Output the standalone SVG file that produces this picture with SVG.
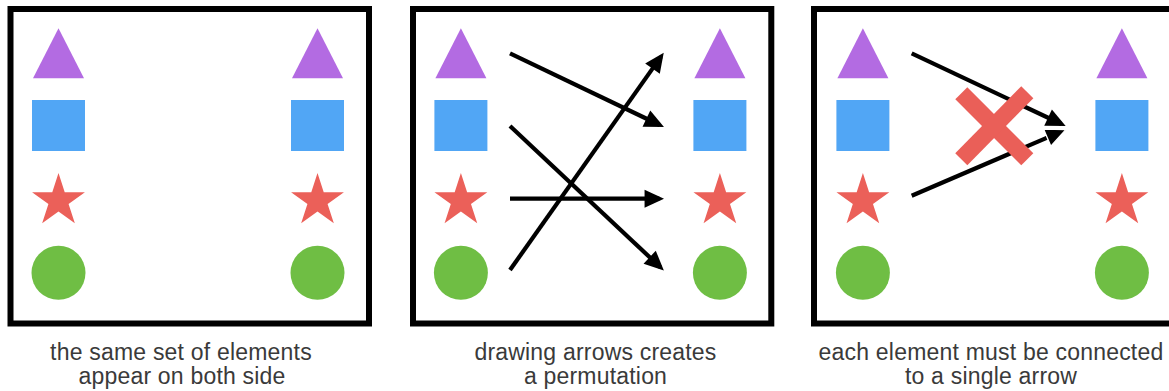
<svg xmlns="http://www.w3.org/2000/svg" xmlns:xlink="http://www.w3.org/1999/xlink" width="1169" height="391" viewBox="0 0 1169 391">
<style>
.frame{fill:none;stroke:#000;stroke-width:6}
.arrow{fill:none;stroke:#000;stroke-width:4.2;marker-end:url(#head)}
.arrow2{fill:none;stroke:#000;stroke-width:4.2;marker-end:url(#head2)}
.lbl{font-family:"Helvetica Neue","Liberation Sans",Arial,sans-serif;font-size:23px;letter-spacing:0.2px;fill:#3a3a3a;text-anchor:middle}
.cross{stroke:#EA5F58;stroke-width:17;stroke-linecap:butt}
</style>
<defs>
<polygon id="tri" points="0,-25 25.5,25 -25.5,25" fill="#B36BE2"/>
<rect id="sq" x="-26.5" y="-25.5" width="53" height="51" fill="#51A6F5"/>
<path id="star" d="M0,-27.8 L6.23,-8.58 L26.44,-8.59 L10.08,3.28 L16.34,22.49 L0,10.6 L-16.34,22.49 L-10.08,3.28 L-26.44,-8.59 L-6.23,-8.58 Z" fill="#EB6059"/>
<circle id="circ" r="27" fill="#6FBE44"/>
<marker id="head" markerUnits="userSpaceOnUse" markerWidth="21" markerHeight="20" viewBox="0 -9.5 19 19" refX="14" refY="0" orient="auto">
<path d="M0,-8.5 L18.5,0 L0,8.5 Z" fill="#000"/>
</marker>
<marker id="head2" markerUnits="userSpaceOnUse" markerWidth="23" markerHeight="23" viewBox="-1 -10.5 21 21" refX="14" refY="0" orient="auto">
<path d="M0,-8.5 L18.5,0 L0,8.5 Z" fill="#000" stroke="#fff" stroke-width="1.2"/>
</marker>
</defs>

<g id="panel1">
<rect class="frame" x="10.5" y="9" width="358.5" height="314.5"/>
<g id="p1-left-triangle"><use xlink:href="#tri" x="58.5" y="53.3"/></g>
<g id="p1-left-square"><use xlink:href="#sq" x="58.5" y="125.5"/></g>
<g id="p1-left-star"><use xlink:href="#star" x="58.5" y="200.8"/></g>
<g id="p1-left-circle"><use xlink:href="#circ" x="58.5" y="272.8"/></g>
<g id="p1-right-triangle"><use xlink:href="#tri" x="317.5" y="53.3"/></g>
<g id="p1-right-square"><use xlink:href="#sq" x="317.5" y="125.5"/></g>
<g id="p1-right-star"><use xlink:href="#star" x="317.5" y="200.8"/></g>
<g id="p1-right-circle"><use xlink:href="#circ" x="317.5" y="272.8"/></g>
<text class="lbl" x="181" y="360">the same set of elements</text>
<text class="lbl" x="182" y="384">appear on both side</text>
</g>

<g id="panel2">
<rect class="frame" x="413" y="9" width="358.3" height="314.5"/>
<g id="p2-left-triangle"><use xlink:href="#tri" x="460.9" y="53.3"/></g>
<g id="p2-left-square"><use xlink:href="#sq" x="460.9" y="125.5"/></g>
<g id="p2-left-star"><use xlink:href="#star" x="460.9" y="200.8"/></g>
<g id="p2-left-circle"><use xlink:href="#circ" x="460.9" y="272.8"/></g>
<g id="p2-right-triangle"><use xlink:href="#tri" x="719.9" y="53.3"/></g>
<g id="p2-right-square"><use xlink:href="#sq" x="719.9" y="125.5"/></g>
<g id="p2-right-star"><use xlink:href="#star" x="719.9" y="200.8"/></g>
<g id="p2-right-circle"><use xlink:href="#circ" x="719.9" y="272.8"/></g>
<text class="lbl" x="595.5" y="360">drawing arrows creates</text>
<text class="lbl" x="595.5" y="384">a permutation</text>
</g>

<g id="panel3">
<rect class="frame" x="814" y="9" width="370" height="314.5"/>
<g id="p3-left-triangle"><use xlink:href="#tri" x="862.9" y="53.3"/></g>
<g id="p3-left-square"><use xlink:href="#sq" x="862.9" y="125.5"/></g>
<g id="p3-left-star"><use xlink:href="#star" x="862.9" y="200.8"/></g>
<g id="p3-left-circle"><use xlink:href="#circ" x="862.9" y="272.8"/></g>
<g id="p3-right-triangle"><use xlink:href="#tri" x="1121.9" y="53.3"/></g>
<g id="p3-right-square"><use xlink:href="#sq" x="1121.9" y="125.5"/></g>
<g id="p3-right-star"><use xlink:href="#star" x="1121.9" y="200.8"/></g>
<g id="p3-right-circle"><use xlink:href="#circ" x="1121.9" y="272.8"/></g>
<text class="lbl" x="991" y="360">each element must be connected</text>
<text class="lbl" x="991" y="384">to a single arrow</text>
</g>

<g id="connectors">
<line class="arrow" x1="510" y1="53.3" x2="659.7" y2="125"/>
<line class="arrow" x1="510" y1="126" x2="660.4" y2="267.3"/>
<line class="arrow" x1="510" y1="198.7" x2="659.3" y2="198.7"/>
<line class="arrow" x1="510" y1="270" x2="661" y2="56.6"/>
<line class="arrow" x1="911.7" y1="53.3" x2="1061.4" y2="124"/>
<line class="arrow2" x1="911.7" y1="195.7" x2="1061.3" y2="131.6"/>
</g>

<g id="cross">
<line class="cross" x1="961.3" y1="93.2" x2="1027.3" y2="159.2"/>
<line class="cross" x1="1027.3" y1="92.2" x2="961.3" y2="159.2"/>
</g>
</svg>
